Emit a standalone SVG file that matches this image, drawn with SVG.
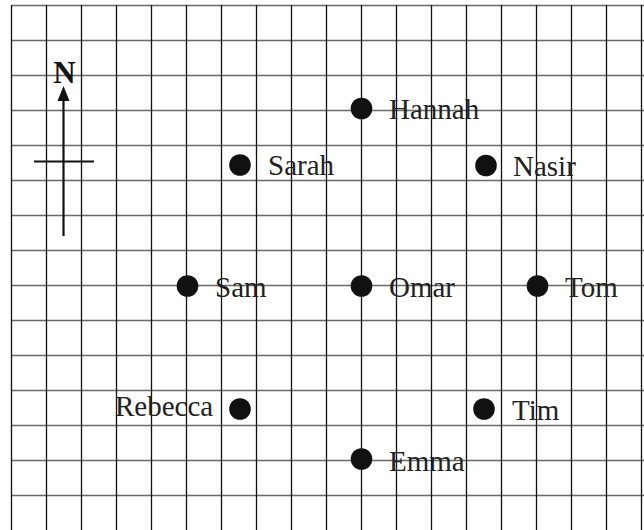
<svg xmlns="http://www.w3.org/2000/svg" width="644" height="530" viewBox="0 0 644 530">
<style>
.h{stroke:#6a6a6a;stroke-width:1.6}
.v{stroke:#111;stroke-width:1.3}
.dot{fill:#111}
.lbl{font-family:"Liberation Serif","Times New Roman",serif;font-size:29px;fill:#222}
.n{font-family:"Liberation Serif","Times New Roman",serif;font-size:31px;font-weight:bold;fill:#111}
.c{stroke:#111;stroke-width:2.2;fill:none}
</style>
<rect width="644" height="530" fill="#fff"/>
<g id="grid">
<g class="h">
<line x1="11.5" y1="5.5" x2="644" y2="5.5"/>
<line x1="11.5" y1="40.5" x2="644" y2="40.5"/>
<line x1="11.5" y1="75.5" x2="644" y2="75.5"/>
<line x1="11.5" y1="110.5" x2="644" y2="110.5"/>
<line x1="11.5" y1="145.5" x2="644" y2="145.5"/>
<line x1="11.5" y1="180.5" x2="644" y2="180.5"/>
<line x1="11.5" y1="215.5" x2="644" y2="215.5"/>
<line x1="11.5" y1="250.5" x2="644" y2="250.5"/>
<line x1="11.5" y1="285.5" x2="644" y2="285.5"/>
<line x1="11.5" y1="320.5" x2="644" y2="320.5"/>
<line x1="11.5" y1="355.5" x2="644" y2="355.5"/>
<line x1="11.5" y1="390.5" x2="644" y2="390.5"/>
<line x1="11.5" y1="425.5" x2="644" y2="425.5"/>
<line x1="11.5" y1="460.5" x2="644" y2="460.5"/>
<line x1="11.5" y1="495.5" x2="644" y2="495.5"/>
</g>
<g class="v">
<line x1="11.5" y1="5" x2="11.5" y2="530"/>
<line x1="46.5" y1="5" x2="46.5" y2="530"/>
<line x1="81.5" y1="5" x2="81.5" y2="530"/>
<line x1="116.5" y1="5" x2="116.5" y2="530"/>
<line x1="151.5" y1="5" x2="151.5" y2="530"/>
<line x1="186.5" y1="5" x2="186.5" y2="530"/>
<line x1="221.5" y1="5" x2="221.5" y2="530"/>
<line x1="256.5" y1="5" x2="256.5" y2="530"/>
<line x1="291.5" y1="5" x2="291.5" y2="530"/>
<line x1="326.5" y1="5" x2="326.5" y2="530"/>
<line x1="361.5" y1="5" x2="361.5" y2="530"/>
<line x1="396.5" y1="5" x2="396.5" y2="530"/>
<line x1="431.5" y1="5" x2="431.5" y2="530"/>
<line x1="466.5" y1="5" x2="466.5" y2="530"/>
<line x1="501.5" y1="5" x2="501.5" y2="530"/>
<line x1="536.5" y1="5" x2="536.5" y2="530"/>
<line x1="571.5" y1="5" x2="571.5" y2="530"/>
<line x1="606.5" y1="5" x2="606.5" y2="530"/>
<line x1="641.5" y1="5" x2="641.5" y2="530"/>
</g>
</g>
<g id="compass">
<line class="c" x1="63.5" y1="98" x2="63.5" y2="236"/>
<line class="c" x1="34" y1="161.5" x2="94" y2="161.5"/>
<polygon points="63.5,86 57.5,101 69.5,101" fill="#111"/>
<text class="n" x="64.5" y="83" text-anchor="middle">N</text>
</g>
<g id="hannah"><circle class="dot" cx="361.5" cy="108.5" r="10.8"/><text class="lbl" x="389" y="119">Hannah</text></g>
<g id="sarah"><circle class="dot" cx="240" cy="165" r="10.8"/><text class="lbl" x="268" y="175">Sarah</text></g>
<g id="nasir"><circle class="dot" cx="486" cy="165.5" r="10.8"/><text class="lbl" x="513" y="175.5">Nasir</text></g>
<g id="sam"><circle class="dot" cx="187.5" cy="286" r="10.8"/><text class="lbl" x="215" y="297">Sam</text></g>
<g id="omar"><circle class="dot" cx="361.5" cy="286" r="10.8"/><text class="lbl" x="389" y="297">Omar</text></g>
<g id="tom"><circle class="dot" cx="537.5" cy="286" r="10.8"/><text class="lbl" x="565" y="297">Tom</text></g>
<g id="rebecca"><circle class="dot" cx="240" cy="409" r="10.8"/><text class="lbl" x="115" y="416">Rebecca</text></g>
<g id="tim"><circle class="dot" cx="484" cy="409" r="10.8"/><text class="lbl" x="512" y="420">Tim</text></g>
<g id="emma"><circle class="dot" cx="361.5" cy="459" r="10.8"/><text class="lbl" x="389" y="471">Emma</text></g>
</svg>
